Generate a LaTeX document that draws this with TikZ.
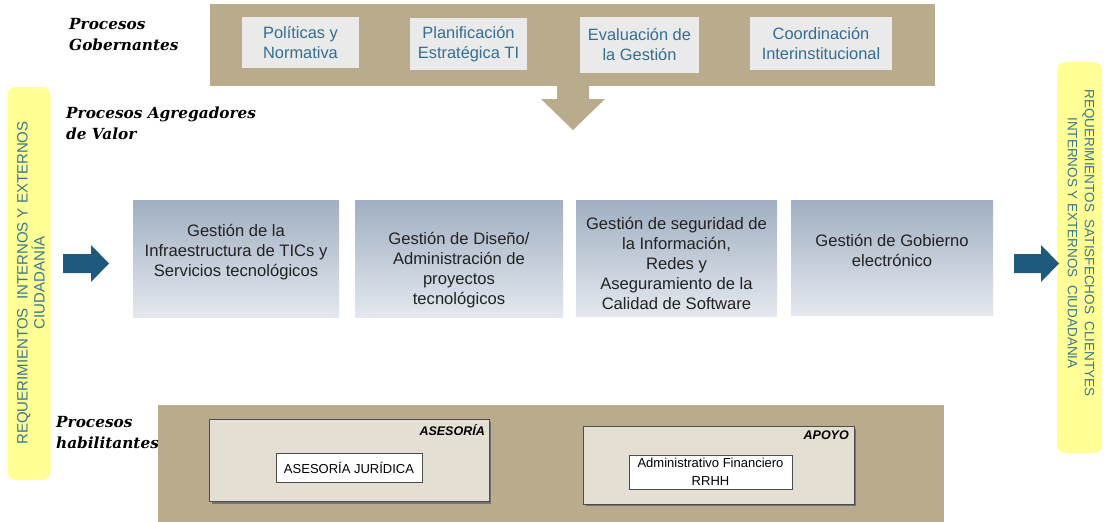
\documentclass[tikz,border=0pt]{standalone}
\usepackage{fontspec}
\setmainfont{Liberation Sans}
\newfontfamily\headfont{DejaVu Serif}
\definecolor{tanc}{HTML}{B9AC8D}
\definecolor{govgray}{HTML}{EAEAEA}
\definecolor{govblue}{HTML}{336E91}
\definecolor{proctop}{HTML}{A0AFC2}
\definecolor{procbot}{HTML}{E4E8EE}
\definecolor{yelc}{HTML}{FFFF96}
\definecolor{yeltext}{HTML}{3A7888}
\definecolor{arrowblue}{HTML}{1E5A7D}
\definecolor{subfill}{HTML}{E5DED2}
\definecolor{subline}{HTML}{4D4D4D}
\definecolor{proctext}{HTML}{222222}
\begin{document}
\begin{tikzpicture}[x=1pt,y=-1pt,
  govbox/.style={fill=govgray, text=govblue, font=\fontsize{16.4}{20}\selectfont, align=center, inner sep=0pt},
  procbox/.style={top color=proctop, bottom color=procbot, draw=none, inner sep=0pt},
  proclabel/.style={text=proctext, font=\fontsize{16.6}{20}\selectfont, align=center, inner sep=0pt},
  yelbox/.style={fill=yelc, rounded corners=8pt, inner sep=0pt},
  yellabel/.style={text=yeltext, align=center, inner sep=0pt},
  headlabel/.style={font=\headfont\bfseries\itshape\fontsize{15.3}{21}\selectfont, align=left, inner sep=0pt, anchor=west},
  subbox/.style={fill=subfill, draw=subline, line width=0.8pt, inner sep=0pt},
  sublabel/.style={font=\bfseries\itshape\fontsize{12.5}{14}\selectfont, inner sep=0pt, anchor=north east},
  whitebox/.style={fill=white, draw=subline, line width=0.8pt, align=center, inner sep=0pt, font=\fontsize{13}{18}\selectfont}
]
\useasboundingbox (0,0) rectangle (1104,522);
\fill[white] (0,0) rectangle (1104,522);

% top band and down arrow
\fill[tanc] (210,4) rectangle (935,86);
\fill[tanc] (557,85) -- (589,85) -- (589,99) -- (605,99) -- (573,130) -- (541,99) -- (557,99) -- cycle;

\node[govbox, minimum width=117pt, minimum height=51pt] (pol) at (300.5,42.5) {Políticas y\\Normativa};
\node[govbox, minimum width=117pt, minimum height=52pt] (pla) at (468.5,44) {Planificación\\Estratégica TI};
\node[govbox, minimum width=119pt, minimum height=56pt] (eva) at (639.5,45) {Evaluación de\\la Gestión};
\node[govbox, minimum width=142pt, minimum height=53pt] (coo) at (821,43.5) {Coordinación\\Interinstitucional};

% headings
\node[headlabel] (hgob) at (69,34.5) {Procesos\\Gobernantes};
\node[headlabel] (hagr) at (66,123) {Procesos Agregadores\\de Valor};
\node[headlabel] (hhab) at (56,433) {Procesos\\habilitantes};

% yellow side boxes
\node[yelbox, minimum width=43pt, minimum height=393pt] (yl) at (29,283.5) {};
\node[yellabel, rotate=90, font=\fontsize{15}{17}\selectfont] (ylt) at (31,283) {REQUERIMIENTOS~~INTERNOS Y EXTERNOS\\CIUDADANÍA};
\node[yelbox, minimum width=45pt, minimum height=391pt] (yr) at (1079.5,257.5) {};
\node[yellabel, rotate=-90, font=\fontsize{13.5}{17}\selectfont] (yrt) at (1081,243) {REQUERIMIENTOS~~SATISFECHOS~~CLIENTYES\\INTERNOS Y EXTERNOS~~CIUDADANIA};

% blue arrows
\fill[arrowblue] (63,254) -- (91,254) -- (91,245) -- (109,263.5) -- (91,282) -- (91,273) -- (63,273) -- cycle;
\fill[arrowblue] (1014,254) -- (1041,254) -- (1041,245) -- (1059,263.5) -- (1041,282) -- (1041,273) -- (1014,273) -- cycle;

% value processes
\node[procbox, minimum width=206pt, minimum height=117pt] (p1) at (236,258.5) {};
\node[procbox, minimum width=208pt, minimum height=117pt] (p2) at (459,258.5) {};
\node[procbox, minimum width=201pt, minimum height=116pt] (p3) at (676.5,258) {};
\node[procbox, minimum width=202pt, minimum height=115pt] (p4) at (892,257.5) {};
\node[proclabel] (t1) at (236,252) {Gestión de la\\Infraestructura de TICs y\\Servicios tecnológicos};
\node[proclabel] (t2) at (459,270) {Gestión de Diseño/\\Administración de\\proyectos\\tecnológicos};
\node[proclabel] (t3) at (676.5,263) {Gestión de seguridad de\\la Información,\\Redes y\\Aseguramiento de la\\Calidad de Software};
\node[proclabel] (t4) at (892,250) {Gestión de Gobierno\\electrónico};

% bottom band
\fill[tanc] (158,405) rectangle (944,522);
\fill[black!55] (211.5,421.5) rectangle (491,503.5);
\node[subbox, minimum width=280pt, minimum height=82pt] (ases) at (349,460) {};
\node[sublabel] (asesl) at (485,424) {ASESORÍA};
\node[whitebox, minimum width=146pt, minimum height=29pt] (aj) at (349,467.5) {ASESORÍA JURÍDICA};
\fill[black!55] (585.5,428.5) rectangle (856,506);
\node[subbox, minimum width=271pt, minimum height=78pt] (apo) at (718.5,465) {};
\node[sublabel] (apol) at (849,431) {APOYO};
\node[whitebox, minimum width=163pt, minimum height=34pt] (af) at (710.5,472) {Administrativo Financiero\\RRHH};
\end{tikzpicture}
\end{document}
